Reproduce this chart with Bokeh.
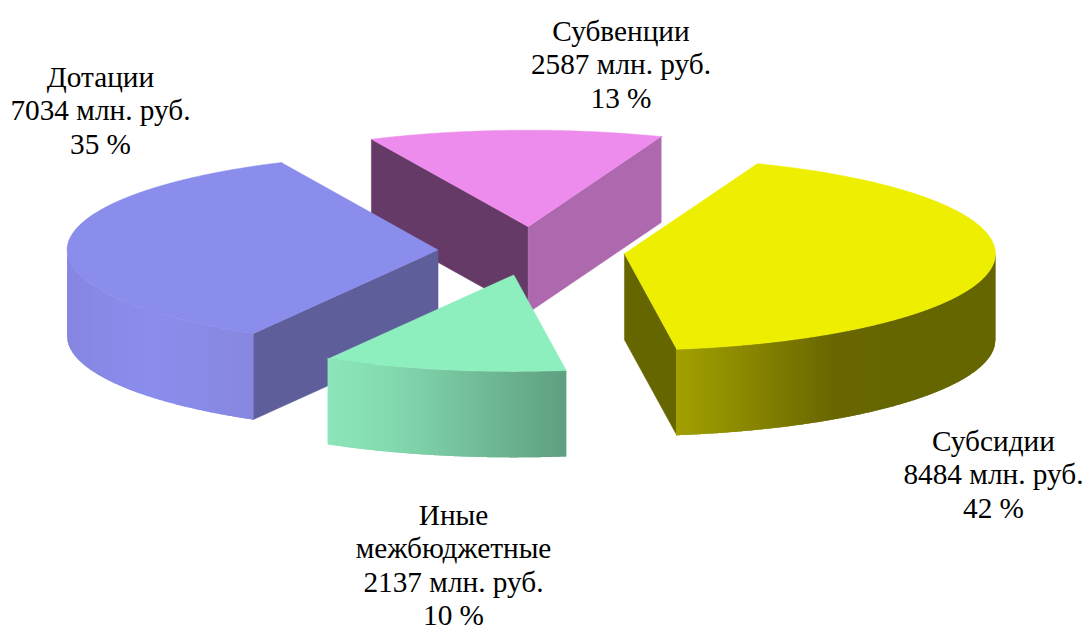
import numpy as np
from bokeh.plotting import figure
from bokeh.models import Range1d
from bokeh.core.properties import value
from bokeh.embed import file_html
from bokeh.resources import INLINE

# data, clockwise from the start angle
names = ["Субсидии", "Иные межбюджетные", "Дотации", "Субвенции"]
amounts = [8484, 2137, 7034, 2587]
percents = [42, 10, 35, 13]
label_lines = [
    ["Субсидии", "8484 млн. руб.", "42 %"],
    ["Иные", "межбюджетные", "2137 млн. руб.", "10 %"],
    ["Дотации", "7034 млн. руб.", "35 %"],
    ["Субвенции", "2587 млн. руб.", "13 %"],
]

# styles
top_colors = ["#eeee00", "#8eefbe", "#8b8ded", "#ee8ced"]
# cut face colours: (face at the start angle, face at the end angle)
cut_colors = [("#666600", "#666600"), ("#5f9f80", "#5f9f80"), ("#5e5e9b", "#5e5e9b"), ("#663a66", "#ae68ae")]
rim_stops = [
    [(0.0, "#a3a100"), (0.5, "#686600"), (1.0, "#666600")],
    [(0.0, "#8ce6ba"), (0.25, "#84dab0"), (1.0, "#5f9f80")],
    [(0.0, "#8686e2"), (0.45, "#8b8ded"), (1.0, "#8787e0")],
    [(0.0, "#ae68ae"), (1.0, "#ae68ae")],
]
draw_order = [3, 2, 1, 0]
label_anchor = [(993, 440), (453, 514), (100, 76), (620.5, 30)]
line_step = 33.6

start_deg = 69.0
cx, cy = 531.0, 250.5
rx, ry = 371.0, 96.5
explode = 93.5
depth = 86.0


def hex2rgb(h):
    return np.array([int(h[i:i + 2], 16) for i in (1, 3, 5)], float)


def stop_color(stops, f):
    pos = [s[0] for s in stops]
    rgb = np.array([hex2rgb(s[1]) for s in stops])
    c = [np.interp(f, pos, rgb[:, k]) for k in range(3)]
    return "#%02x%02x%02x" % tuple(int(round(v)) for v in c)


p = figure(width=1085, height=630, output_backend="svg", toolbar_location=None,
           x_range=Range1d(0, 1085), y_range=Range1d(630, 0), min_border=0,
           border_fill_color="white", background_fill_color="white", outline_line_color=None)
p.axis.visible = False
p.grid.visible = False

total = sum(amounts)
sweeps = [a / total * 360.0 for a in amounts]
starts = start_deg - np.concatenate([[0], np.cumsum(sweeps)[:-1]])

for i in draw_order:
    a0, a1 = starts[i], starts[i] - sweeps[i]
    mid = np.radians((a0 + a1) / 2)
    ax = cx + explode * np.cos(mid)
    ay = cy - explode * np.sin(mid) * ry / rx

    ts = np.radians(np.arange(a0, a1 - 0.25, -0.25))
    ts = np.append(ts, np.radians(a1))
    ex = ax + rx * np.cos(ts)
    ey = ay - ry * np.sin(ts)

    # cut faces that look towards the viewer
    e0 = (ex[0], ey[0])
    e1 = (ex[-1], ey[-1])
    if np.sin(np.radians(a0 + 90)) < 0:
        p.patch([ax, e0[0], e0[0], ax], [ay, e0[1], e0[1] + depth, ay + depth],
                fill_color=cut_colors[i][0], line_color=cut_colors[i][0], line_width=0.5)
    if np.sin(np.radians(a1 - 90)) < 0:
        p.patch([ax, e1[0], e1[0], ax], [ay, e1[1], e1[1] + depth, ay + depth],
                fill_color=cut_colors[i][1], line_color=cut_colors[i][1], line_width=0.5)

    # outer rim, front half only, in pixel-wide vertical strips
    front = np.sin(ts) <= 0
    if front.sum() > 1:
        fx = ex[front]
        lo, hi = fx.min(), fx.max()
        grid = np.r_[lo, np.arange(np.ceil(lo), np.floor(hi) + 1, 1.0), hi]
        grid = np.unique(grid)
        xs, ys, cols = [], [], []
        for k in range(len(grid) - 1):
            seg = np.linspace(grid[k], min(grid[k + 1] + 1, hi), 3)
            sy = ay + ry * np.sqrt(np.clip(1 - ((seg - ax) / rx) ** 2, 0, 1))
            xs.append(np.r_[seg, seg[::-1]].tolist())
            ys.append(np.r_[sy, (sy + depth)[::-1]].tolist())
            cols.append(stop_color(rim_stops[i], (grid[k] - lo) / (hi - lo)))
        p.patches(xs, ys, fill_color=cols, line_color=None)

    # top face
    p.patch(np.r_[ax, ex], np.r_[ay, ey], fill_color=top_colors[i], line_color=top_colors[i], line_width=0.5)

for lines, (lx, ly) in zip(label_lines, label_anchor):
    p.text([lx] * len(lines), [ly + n * line_step for n in range(len(lines))], text=lines,
           text_font=value("Liberation Serif"), text_font_size="29.3px", text_color="#000000",
           text_align="center", text_baseline="middle")

open("out.html", "w").write(file_html(p, INLINE))
